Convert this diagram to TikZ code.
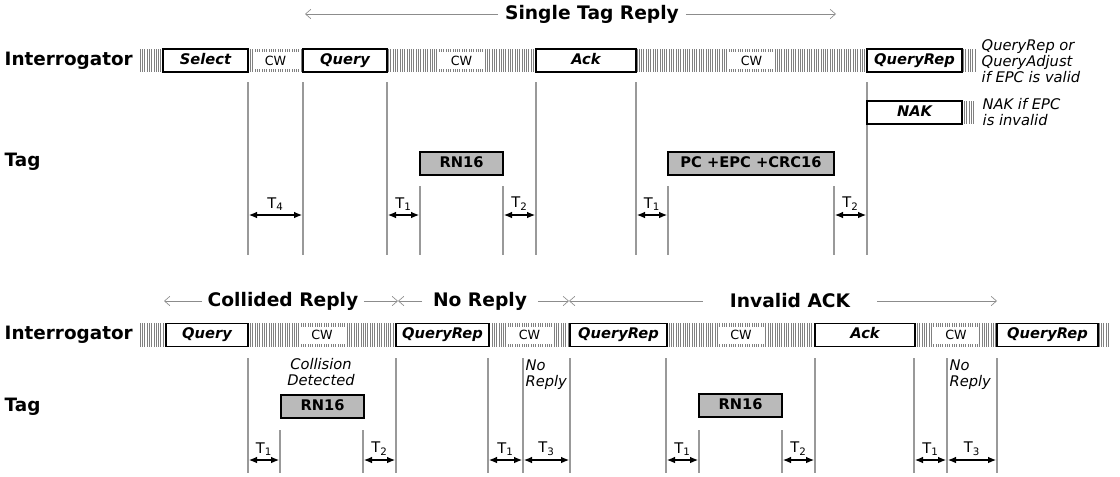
\documentclass[tikz,border=0pt]{standalone}
\usepackage{fontspec}
\setmainfont{DejaVu Sans}
\usepackage{tikz}
\usetikzlibrary{arrows.meta, positioning}
\tikzset{
	rowlabel/.style={font=\fontsize{13.8}{15}\selectfont\bfseries}
}
\tikzset{
	notetext/.style={font=\fontsize{11}{12}\selectfont\itshape, align=left}
}

\begin{document}
\begin{tikzpicture}[x=0.75pt, y=-0.75pt]

      \tikzset{
        cmdbox/.style={
            draw=black,
            line width=1.1pt,
            fill=white,
            minimum height=23*0.75pt,
            inner sep=0pt,
            text height=8pt,
            text depth=2.3pt,
            font=\fontsize{11}{12}\selectfont\bfseries\itshape
          },
        tagbox/.style={
            cmdbox,
            fill=black!27,
            font=\fontsize{11}{12}\selectfont\bfseries
          },
        boxw/.style={minimum width=#1*0.75pt},
        cwbox/.style={
            fill=white,
            minimum width=46*0.75pt,
            minimum height=17*0.75pt,
            inner sep=0pt,
            font=\fontsize{9.5}{10}\selectfont
          },
        hatch/.style={draw=black!50, line width=0.45pt},
        marker/.style={draw=black!40, line width=1.3pt},
        tarrow/.style={{Latex[length=6pt,width=5pt]}-{Latex[length=6pt,width=5pt]}, line width=0.8pt},
        tlabel/.style={above=2pt, inner sep=1pt, font=\fontsize{11}{12}\selectfont},
        header/.style={font=\fontsize{14}{16}\selectfont\bfseries, inner xsep=5pt},
        hdarrow/.style={-{Straight Barb[length=4pt,width=7pt]}, draw=black!45, line width=0.5pt}
      }

      \useasboundingbox (0,0) rectangle (1120,476);

      % single tag reply
      \node[header] (single) at (592,14) {Single Tag Reply};
      \coordinate (singleL) at (305,14);
      \coordinate (singleR) at (836,14);
      \draw[hdarrow] (single) -- (singleL);
      \draw[hdarrow] (single) -- (singleR);

      \node[rowlabel, anchor=west] (interr1) at (0,60.5) {Interrogator};
      \node[rowlabel, anchor=west] (tag1) at (0,162) {Tag};

      \foreach \x in {140,142.3,...,975} \draw[hatch] (\x,49) -- (\x,72);
      \foreach \x in {962,964.3,...,975} \draw[hatch] (\x,101) -- (\x,124);

      \foreach \x in {248,303,387,536,636,867} \draw[marker] (\x,82) -- (\x,255);
      \foreach \x in {420,503,668,834} \draw[marker] (\x,186) -- (\x,255);

      \node[cmdbox, boxw=85] (select) at (205.5,60.5) {Select};
      \node[cwbox] (cw1) at (275.5,60.5) {CW};
      \node[cmdbox, boxw=84] (query1) at (345,60.5) {Query};
      \node[cwbox] (cw2) at (461.5,60.5) {CW};
      \node[cmdbox, boxw=100] (ack1) at (586,60.5) {Ack};
      \node[cwbox] (cw3) at (751.5,60.5) {CW};
      \node[cmdbox, boxw=95] (qrep1) at (914.5,60.5) {QueryRep};
      \node[cmdbox, boxw=95] (nak) at (914.5,112.5) {NAK};

      \node[notetext, anchor=west] (validnote) at (977,61) {QueryRep or\\QueryAdjust\\if EPC is valid};
      \node[notetext, anchor=west] (invalidnote) at (978,112) {NAK if EPC\\is invalid};

      \node[tagbox, boxw=83] (rn1) at (461.5,163.5) {RN16};
      \node[tagbox, boxw=166] (epc) at (751,163.5) {PC +EPC +CRC16};

      \draw[tarrow] (249,215) -- node[tlabel] (t4a) {T\textsubscript{4}} (302,215);
      \draw[tarrow] (388,215) -- node[tlabel] (t1a) {T\textsubscript{1}} (419,215);
      \draw[tarrow] (504,215) -- node[tlabel] (t2a) {T\textsubscript{2}} (535,215);
      \draw[tarrow] (637,215) -- node[tlabel] (t1b) {T\textsubscript{1}} (667,215);
      \draw[tarrow] (835,215) -- node[tlabel] (t2b) {T\textsubscript{2}} (866,215);

      % collided reply, no reply, invalid ack
      \node[header, inner xsep=4pt] (collided) at (283,301) {Collided Reply};
      \node[header, inner xsep=8pt] (noreply) at (480,301) {No Reply};
      \node[header, inner xsep=20pt] (invalid) at (790,301) {Invalid ACK};
      \coordinate (h1) at (164,301);
      \coordinate (h2) at (398,301);
      \coordinate (h3) at (569,301);
      \coordinate (h4) at (997,301);
      \draw[hdarrow] (collided) -- (h1);
      \draw[hdarrow] (collided) -- (h2);
      \draw[hdarrow] (noreply) -- (h2);
      \draw[hdarrow] (noreply) -- (h3);
      \draw[hdarrow] (invalid) -- (h3);
      \draw[hdarrow] (invalid) -- (h4);

      \node[rowlabel, anchor=west] (interr2) at (0,335) {Interrogator};
      \node[rowlabel, anchor=west] (tag2) at (0,407) {Tag};

      \foreach \x in {140,142.3,...,1110} \draw[hatch] (\x,323) -- (\x,347);

      \foreach \x in {248,396,488,523,570,666,815,914,947,997} \draw[marker] (\x,358) -- (\x,473);
      \foreach \x in {280,363,699,782} \draw[marker] (\x,430) -- (\x,473);

      \node[cmdbox, boxw=82] (query2) at (207,335) {Query};
      \node[cwbox] (cw4) at (322,335) {CW};
      \node[cmdbox, boxw=93] (qrep2) at (442.5,335) {QueryRep};
      \node[cwbox] (cw5) at (529.5,335) {CW};
      \node[cmdbox, boxw=97] (qrep3) at (618.5,335) {QueryRep};
      \node[cwbox] (cw6) at (741,335) {CW};
      \node[cmdbox, boxw=100] (ack2) at (865,335) {Ack};
      \node[cwbox] (cw7) at (956,335) {CW};
      \node[cmdbox, boxw=101] (qrep4) at (1047.5,335) {QueryRep};

      \node[notetext, align=center] (collision) at (321,372) {Collision\\Detected};
      \node[notetext, anchor=west, inner xsep=1pt] (noreply1) at (524,375) {No\\Reply};
      \node[notetext, anchor=west, inner xsep=1pt] (noreply2) at (948,375) {No\\Reply};

      \node[tagbox, boxw=83] (rn2) at (322.5,406.5) {RN16};
      \node[tagbox, boxw=83] (rn3) at (740.5,405.5) {RN16};

      \draw[tarrow] (249,460) -- node[tlabel] (t1c) {T\textsubscript{1}} (279,460);
      \draw[tarrow] (364,460) -- node[tlabel] (t2c) {T\textsubscript{2}} (395,460);
      \draw[tarrow] (489,460) -- node[tlabel] (t1d) {T\textsubscript{1}} (522,460);
      \draw[tarrow] (524,460) -- node[tlabel] (t3a) {T\textsubscript{3}} (569,460);
      \draw[tarrow] (667,460) -- node[tlabel] (t1e) {T\textsubscript{1}} (698,460);
      \draw[tarrow] (783,460) -- node[tlabel] (t2d) {T\textsubscript{2}} (814,460);
      \draw[tarrow] (915,460) -- node[tlabel] (t1f) {T\textsubscript{1}} (946,460);
      \draw[tarrow] (948,460) -- node[tlabel] (t3b) {T\textsubscript{3}} (996,460);
    \end{tikzpicture}
\end{document}
